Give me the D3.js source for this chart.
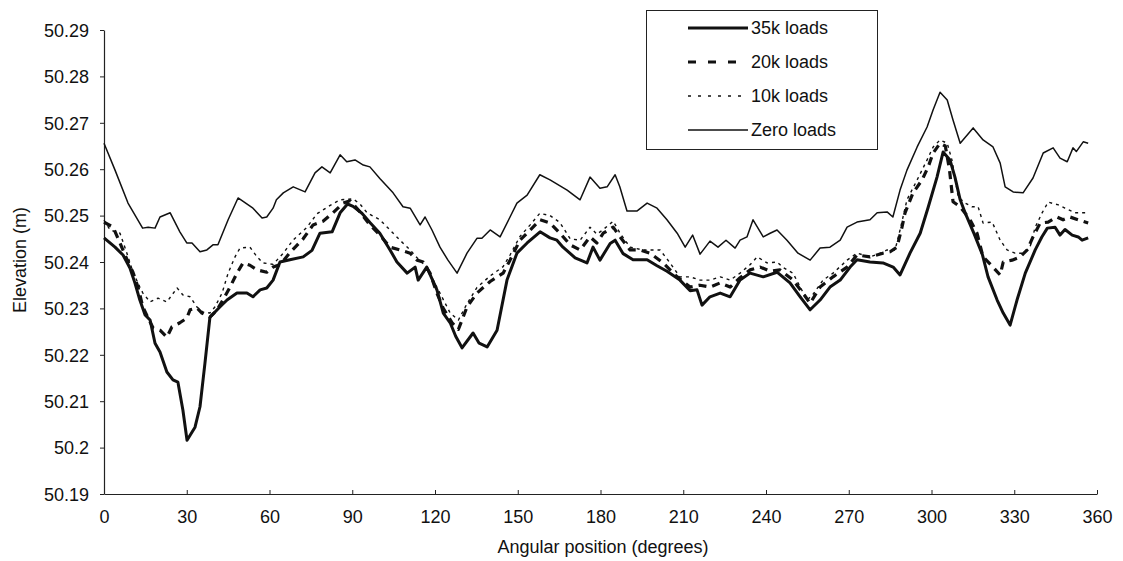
<!DOCTYPE html>
<html>
<head>
<meta charset="utf-8">
<script src="https://cdn.jsdelivr.net/npm/d3@7"></script>
<style>
  html, body { margin: 0; padding: 0; background: #fff; }
  svg { display: block; font-family: "Liberation Sans", Arial, sans-serif; }
</style>
</head>
<body>
<svg id="chart" width="1123" height="561"></svg>
<script>
// ---------------- data ----------------
const seriesNames = ["35k loads", "20k loads", "10k loads", "Zero loads"];

const xTicks = [0, 30, 60, 90, 120, 150, 180, 210, 240, 270, 300, 330, 360];
const yTicks = [50.19, 50.2, 50.21, 50.22, 50.23, 50.24, 50.25, 50.26, 50.27, 50.28, 50.29];
const yTickLabels = ["50.19", "50.2", "50.21", "50.22", "50.23", "50.24", "50.25", "50.26", "50.27", "50.28", "50.29"];

const load35Angles = [0,4,6.9,9.4,11.2,13,14.9,16.7,18.5,20.3,22.8,25,26.8,28.6,30.1,33,34.8,36.6,38.4,42,44.6,48.2,51.8,54,56.6,59,61.3,63.8,67.4,72.2,75.4,78.3,82.7,85.6,88.3,90.3,93.5,96.4,100,103.7,106.2,109.9,112.8,113.9,117,120.7,123,125.5,127.5,129.8,133.8,136,138.9,142.5,146.1,149.7,153.4,158.1,161.7,164.2,166.4,170.8,175.1,177.3,179.8,183.5,185.3,188.2,191.8,196.9,200.5,204.1,208.8,212.5,215,216.8,219.7,223.4,227,230.6,234.2,239,244,248.7,252.4,256,259.6,263.2,266.9,270.5,273,277.7,282.4,286.1,288.6,292.2,295.9,298.8,302,304.2,306.7,308.5,310.4,312.2,315.5,318.5,320.5,323.8,326,328.5,331,334,337.6,340,342,344.8,346.6,348.4,351,353.2,354.6,356.8];
const load35Values = [50.2452,50.2432,50.2415,50.2387,50.2355,50.2318,50.2286,50.2275,50.2225,50.2206,50.2163,50.2146,50.2141,50.2081,50.2016,50.2044,50.2088,50.2182,50.2281,50.2303,50.2318,50.2333,50.2333,50.2325,50.2340,50.2344,50.2361,50.2400,50.2405,50.2411,50.2425,50.2462,50.2465,50.2506,50.2525,50.2520,50.2505,50.2485,50.2462,50.2426,50.2400,50.2376,50.2389,50.2361,50.2389,50.2340,50.2290,50.2269,50.2240,50.2215,50.2247,50.2225,50.2217,50.2253,50.2361,50.2419,50.2441,50.2465,50.2452,50.2447,50.2432,50.2409,50.2398,50.2432,50.2404,50.2440,50.2447,50.2418,50.2405,50.2405,50.2392,50.2380,50.2361,50.2338,50.2340,50.2307,50.2325,50.2333,50.2325,50.2361,50.2376,50.2368,50.2378,50.2355,50.2325,50.2297,50.2318,50.2346,50.2361,50.2389,50.2405,50.2400,50.2398,50.2389,50.2372,50.2419,50.2462,50.2518,50.2583,50.2637,50.2620,50.2583,50.2534,50.2506,50.2460,50.2415,50.2368,50.2318,50.2290,50.2264,50.2318,50.2376,50.2426,50.2454,50.2473,50.2475,50.2458,50.2470,50.2458,50.2454,50.2447,50.2452];

const load20Angles = [0,3.3,5.8,8.7,10.5,12.3,14.1,16,17.8,20.3,22.8,24.6,27.5,30,31.2,33.7,35.5,38.4,41,43.1,45.7,48.2,50.4,52.9,55.5,59,61.3,64,67.4,72.2,75.8,79.4,83,86.7,89.2,92.8,96.4,100,103.7,107.3,111,113.5,115.7,118.2,120.7,123,126.2,128.5,131.6,135.2,140,144.7,147.2,150.8,154.5,158.1,161.7,165.3,169,172.6,176.2,178.7,181,184.6,187.1,190.7,194.3,198,202.7,207.8,212.5,216,219.7,223.4,227,230.6,234.2,237.9,241.5,245.1,249.8,253.4,256,259.6,264.3,269.4,273,277.7,282.4,285,287.5,289.3,290.4,293.3,296.6,298.8,300.6,303.1,305,306.5,307.8,310.4,314,316.5,318.7,322.3,324.9,326,329.2,332.1,334.7,336.8,339.4,342.3,345.5,347.7,350.2,353.2,356.8];
const load20Values = [50.2486,50.2475,50.2441,50.2400,50.2378,50.2346,50.2303,50.2279,50.2258,50.2253,50.2238,50.2260,50.2269,50.2279,50.2297,50.2301,50.2290,50.2281,50.2297,50.2318,50.2346,50.2376,50.2398,50.2393,50.2383,50.2378,50.2389,50.2395,50.2420,50.2450,50.2480,50.2488,50.2506,50.2527,50.2532,50.2508,50.2480,50.2458,50.2432,50.2426,50.2419,50.2404,50.2400,50.2376,50.2333,50.2300,50.2269,50.2255,50.2303,50.2333,50.2358,50.2376,50.2404,50.2447,50.2469,50.2491,50.2484,50.2462,50.2437,50.2426,50.2454,50.2441,50.2462,50.2475,50.2454,50.2426,50.2426,50.2419,50.2398,50.2368,50.2346,50.2350,50.2346,50.2355,50.2346,50.2366,50.2383,50.2389,50.2380,50.2383,50.2361,50.2333,50.2311,50.2346,50.2368,50.2389,50.2415,50.2411,50.2419,50.2422,50.2432,50.2475,50.2506,50.2549,50.2577,50.2605,50.2635,50.2656,50.2650,50.2600,50.2530,50.2519,50.2491,50.2462,50.2411,50.2389,50.2372,50.2400,50.2404,50.2411,50.2426,50.2454,50.2484,50.2486,50.2497,50.2491,50.2497,50.2491,50.2484];

const load10Angles = [0,2.2,5.8,8.3,10.5,13,14.1,16.7,19.6,22.8,26.5,28.6,31.2,33.7,35.9,38.4,40.2,42.8,45,47.5,49.3,52.9,55.5,57.6,61.3,65,68.5,73.6,77.2,82,85.6,90.3,92.8,95.4,100,103.7,107.3,111,113.5,117.1,119.3,121.8,125.5,128.5,131.6,135.2,140,144.7,147.2,150.8,154.5,158,161.7,165.3,169,172.6,176.2,178.7,181,184.6,187.1,190.7,195.4,201.6,205.2,208.8,212.5,216.1,219.7,223.4,227,230.6,234.2,236.8,240.4,244,246,249.8,252.4,254.9,257,260.7,264.3,269.4,273,277.7,281.4,283.9,286.8,288.6,291.1,294.8,298.4,300.6,303.1,305.7,307.4,309.7,312.2,314.7,316.9,318.7,322,324.9,327.4,330.3,333.2,335.7,337.6,340.1,342.3,346,348.4,352,356.8];
const load10Values = [50.2490,50.2469,50.2462,50.2419,50.2378,50.2346,50.2333,50.2314,50.2322,50.2314,50.2344,50.2329,50.2325,50.2303,50.2292,50.2290,50.2303,50.2333,50.2376,50.2411,50.2430,50.2432,50.2411,50.2398,50.2395,50.2419,50.2447,50.2475,50.2504,50.2522,50.2534,50.2536,50.2525,50.2506,50.2491,50.2469,50.2447,50.2426,50.2409,50.2389,50.2361,50.2333,50.2290,50.2275,50.2310,50.2345,50.2370,50.2390,50.2415,50.2455,50.2480,50.2505,50.2500,50.2485,50.2450,50.2447,50.2475,50.2460,50.2470,50.2488,50.2462,50.2432,50.2426,50.2426,50.2398,50.2368,50.2368,50.2361,50.2361,50.2368,50.2361,50.2376,50.2394,50.2411,50.2398,50.2400,50.2389,50.2376,50.2346,50.2318,50.2330,50.2361,50.2376,50.2404,50.2419,50.2411,50.2419,50.2426,50.2426,50.2469,50.2534,50.2577,50.2620,50.2648,50.2663,50.2656,50.2620,50.2540,50.2527,50.2519,50.2519,50.2484,50.2486,50.2447,50.2426,50.2419,50.2419,50.2432,50.2475,50.2506,50.2529,50.2523,50.2516,50.2506,50.2506];

const zeroAngles = [0,4,8.7,14,16,18.5,20.3,24,27.5,30,31.9,34.8,37.3,39.5,41.3,45,48.6,54,57.3,59,61.3,62.5,65,68.6,72.9,76.5,79,82,85.6,88,91,94,96.4,100,104.8,108.4,111,114.6,116.4,118.9,121.8,124.7,128,131.6,135.2,137,140,143.6,147.2,149.7,153.4,158,161.7,167.9,172.6,176.2,179.8,182.4,185.3,187,189.6,193.3,196.9,200.5,204.1,207.8,210.7,213.4,216.1,219.7,222.6,225.5,228.8,230.6,233.1,235.3,239,241.5,244,247.6,251.6,256,259.6,263.2,266.9,269.4,273,277.7,280.3,283.9,286,288.6,291.1,294.8,298.4,300.6,303.1,305.7,307.8,310.4,315.1,318.7,322.3,324.9,326.7,329.6,333.2,336.8,340.5,344.1,346.6,349.2,351.3,352.5,355,356.8];
const zeroValues = [50.2656,50.2598,50.2527,50.2473,50.2475,50.2473,50.2497,50.2506,50.2465,50.2441,50.2441,50.2422,50.2426,50.2437,50.2437,50.2491,50.2538,50.2516,50.2495,50.2497,50.2516,50.2534,50.2549,50.2562,50.2551,50.2592,50.2605,50.2592,50.2631,50.2616,50.2620,50.2609,50.2605,50.2580,50.2549,50.2519,50.2516,50.2480,50.2497,50.2469,50.2432,50.2404,50.2376,50.2419,50.2451,50.2451,50.2469,50.2454,50.2497,50.2527,50.2544,50.2588,50.2577,50.2555,50.2534,50.2583,50.2559,50.2562,50.2588,50.2562,50.2510,50.2510,50.2527,50.2516,50.2491,50.2462,50.2432,50.2458,50.2417,50.2445,50.2432,50.2447,50.2430,50.2447,50.2454,50.2491,50.2454,50.2462,50.2469,50.2447,50.2419,50.2404,50.2430,50.2432,50.2447,50.2475,50.2486,50.2491,50.2506,50.2508,50.2497,50.2555,50.2598,50.2648,50.2691,50.2728,50.2766,50.2749,50.2706,50.2656,50.2689,50.2663,50.2648,50.2613,50.2562,50.2551,50.2549,50.2581,50.2635,50.2646,50.2624,50.2616,50.2646,50.2638,50.2659,50.2656];

// ---------------- chart ----------------
const svg = d3.select("#chart");
const x = d3.scaleLinear().domain([0, 360]).range([104, 1097]);
const y = d3.scaleLinear().domain([50.19, 50.29]).range([494, 30]);

const ink = "#111";
const styles = [
  { width: 3.0, dash: null },          // 35k
  { width: 3.2, dash: "8,6" },         // 20k
  { width: 1.4, dash: "3,4" },         // 10k
  { width: 1.5, dash: null }           // zero
];
const seriesData = [
  d3.zip(load35Angles, load35Values),
  d3.zip(load20Angles, load20Values),
  d3.zip(load10Angles, load10Values),
  d3.zip(zeroAngles, zeroValues)
];

// axes
const yAxis = d3.axisLeft(y).tickValues(yTicks)
  .tickFormat((d, i) => yTickLabels[i])
  .tickSizeInner(4).tickSizeOuter(0).tickPadding(11);
const gy = svg.append("g").attr("transform", "translate(104,0)").call(yAxis);

const xAxis = d3.axisBottom(x).tickValues(xTicks)
  .tickFormat(d => String(d))
  .tickSizeInner(-4).tickSizeOuter(0).tickPadding(16);
const gx = svg.append("g").attr("transform", "translate(0,494)").call(xAxis);

[gx, gy].forEach(g => {
  g.selectAll("path.domain").attr("stroke", "#222").attr("stroke-width", 1.2);
  g.selectAll(".tick line").attr("stroke", "#222").attr("stroke-width", 1);
  g.selectAll(".tick text").attr("fill", "#111")
    .style("font-family", '"Liberation Sans", Arial, sans-serif')
    .style("font-size", "18px");
});
gy.selectAll(".tick text").attr("dy", "0.35em");

// axis titles
svg.append("text")
  .attr("x", 603).attr("y", 553)
  .attr("text-anchor", "middle")
  .style("font-size", "18px").attr("fill", "#111")
  .text("Angular position (degrees)");

svg.append("text")
  .attr("transform", "translate(26,260) rotate(-90)")
  .attr("text-anchor", "middle")
  .style("font-size", "18px").attr("fill", "#111")
  .text("Elevation (m)");

// lines
const line = d3.line().x(d => x(d[0])).y(d => y(d[1]));
seriesData.forEach((data, i) => {
  svg.append("path")
    .datum(data)
    .attr("fill", "none")
    .attr("stroke", ink)
    .attr("stroke-width", styles[i].width)
    .attr("stroke-linejoin", "round")
    .attr("stroke-dasharray", styles[i].dash)
    .attr("d", line);
});

// legend
const lg = svg.append("g");
lg.append("rect")
  .attr("x", 646.5).attr("y", 10.5).attr("width", 231).attr("height", 139)
  .attr("fill", "#fff").attr("stroke", "#222").attr("stroke-width", 1);
const legendY = [28, 62, 96, 130];
seriesNames.forEach((name, i) => {
  lg.append("line")
    .attr("x1", 688).attr("x2", 748)
    .attr("y1", legendY[i]).attr("y2", legendY[i])
    .attr("stroke", ink)
    .attr("stroke-width", styles[i].width)
    .attr("stroke-dasharray", i === 1 ? "8,12" : (i === 2 ? "3,7" : null));
  lg.append("text")
    .attr("x", 751).attr("y", legendY[i] + 6)
    .style("font-size", "18px").attr("fill", "#111")
    .text(name);
});
</script>
</body>
</html>
